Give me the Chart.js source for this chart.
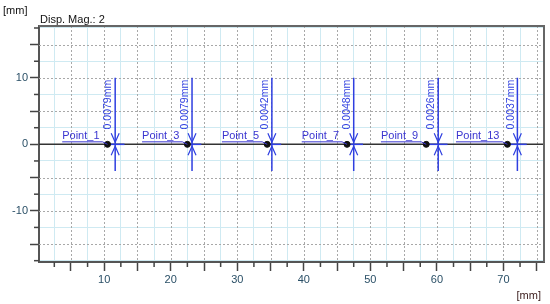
<!DOCTYPE html>
<html>
<head>
<meta charset="utf-8">
<script src="https://cdn.jsdelivr.net/npm/chart.js@4"></script>
<style>
  body { margin: 0; background: #fff; }
  #wrap { width: 550px; height: 304px; position: relative; }
</style>
</head>
<body>
<div id="wrap"><canvas id="dispChart"></canvas></div>
<script>
// Measurement points along the beam
const pointNames = ['Point_1', 'Point_3', 'Point_5', 'Point_7', 'Point_9', 'Point_13'];
const pointX = [10.5, 22.5, 34.5, 46.5, 58.4, 70.6];
const pointY = [0, 0, 0, 0, 0, 0];
// Displacement markers (blue)
const markerX = [11.65, 23.2, 35.2, 47.5, 60.2, 72.1];
const markerTop = 10;
const markerBottom = -4;
const dispLabels = ['0.0079mm', '0.0079mm', '0.0042mm', '0.0048mm', '0.0026mm', '0.0037mm'];
// Axis ranges / ticks
const xRange = [0.2, 76.1];
const yRange = [-17.7, 17.8];
const tickStep = 2.5;
const labelStep = 10;

const FONT = '"Liberation Sans", Arial, sans-serif';
const BLUE = '#2f3fe0';

const isMajor = v => Math.abs(v / 5 - Math.round(v / 5)) < 1e-6;

// Datasets: dots first (drawn on top), then blue markers, baseline last
const datasets = [];
datasets.push({
    type: 'scatter',
    data: pointX.map((x, i) => ({ x: x, y: pointY[i] })),
    pointRadius: 3,
    pointBackgroundColor: '#111',
    pointBorderColor: '#111',
    order: 0
});
markerX.forEach((mx, i) => {
    datasets.push({
        type: 'line',
        data: [{ x: mx, y: markerTop }, { x: mx, y: markerBottom }],
        borderColor: BLUE,
        borderWidth: 1.5,
        pointRadius: 0,
        order: 1
    });
    datasets.push({
        type: 'line',
        data: [{ x: pointX[i], y: pointY[i] }, { x: mx + 1.4, y: pointY[i] }],
        borderColor: BLUE,
        borderWidth: 1.5,
        pointRadius: 0,
        order: 1
    });
});
datasets.push({
    type: 'line',
    data: [{ x: xRange[0], y: 0 }, { x: xRange[1], y: 0 }],
    borderColor: '#333',
    borderWidth: 1.5,
    pointRadius: 0,
    order: 2
});

const overlay = {
    id: 'overlay',
    beforeDatasetsDraw(chart) {
        const { ctx, chartArea: a, scales: { x, y } } = chart;
        ctx.save();
        ctx.strokeStyle = '#a8a8a8';
        ctx.lineWidth = 1;
        ctx.setLineDash([2, 2]);
        x.ticks.forEach(t => {
            if (!isMajor(t.value)) return;
            const px = Math.round(x.getPixelForValue(t.value)) + 0.5;
            ctx.beginPath(); ctx.moveTo(px, a.top); ctx.lineTo(px, a.bottom); ctx.stroke();
        });
        y.ticks.forEach(t => {
            if (!isMajor(t.value)) return;
            const py = Math.round(y.getPixelForValue(t.value)) + 0.5;
            ctx.beginPath(); ctx.moveTo(a.left, py); ctx.lineTo(a.right, py); ctx.stroke();
        });
        ctx.setLineDash([]);
        // minor tick marks (short)
        ctx.strokeStyle = '#444';
        ctx.lineWidth = 1.5;
        x.ticks.forEach(t => {
            if (isMajor(t.value)) return;
            const px = x.getPixelForValue(t.value);
            ctx.beginPath(); ctx.moveTo(px, a.bottom); ctx.lineTo(px, a.bottom + 5); ctx.stroke();
        });
        y.ticks.forEach(t => {
            if (isMajor(t.value)) return;
            const py = y.getPixelForValue(t.value);
            ctx.beginPath(); ctx.moveTo(a.left, py); ctx.lineTo(a.left - 5, py); ctx.stroke();
        });
        ctx.restore();
    },
    afterDraw(chart) {
        const { ctx, chartArea: a, scales: { x, y } } = chart;
        ctx.save();
        // top and right frame
        ctx.strokeStyle = '#666';
        ctx.lineWidth = 2;
        ctx.beginPath();
        ctx.moveTo(a.left, a.top); ctx.lineTo(a.right, a.top); ctx.lineTo(a.right, a.bottom);
        ctx.stroke();

        // arrows, point names, displacement values
        pointX.forEach((px0, i) => {
            const dx = x.getPixelForValue(px0);
            const dy = y.getPixelForValue(pointY[i]);
            const mx = x.getPixelForValue(markerX[i]);

            ctx.strokeStyle = BLUE;
            ctx.lineWidth = 1.2;
            ctx.beginPath();
            ctx.moveTo(mx - 4, dy - 11); ctx.lineTo(mx, dy - 2); ctx.lineTo(mx + 4, dy - 11);
            ctx.moveTo(mx - 4, dy + 11); ctx.lineTo(mx, dy + 2); ctx.lineTo(mx + 4, dy + 11);
            ctx.stroke();

            ctx.font = '11px ' + FONT;
            ctx.fillStyle = '#3a35d0';
            ctx.textAlign = 'right';
            ctx.textBaseline = 'alphabetic';
            ctx.fillText(pointNames[i], dx - 8, dy - 5);
            const w = ctx.measureText(pointNames[i]).width;
            ctx.strokeStyle = '#3a35d0';
            ctx.lineWidth = 1;
            ctx.beginPath();
            ctx.moveTo(dx - 8 - w, dy - 2.5); ctx.lineTo(dx - 5, dy - 2.5); ctx.lineTo(dx, dy);
            ctx.stroke();

            ctx.save();
            ctx.translate(mx - 1.5, y.getPixelForValue(markerTop) + 2);
            ctx.rotate(-Math.PI / 2);
            ctx.font = '10.5px ' + FONT;
            ctx.fillStyle = BLUE;
            ctx.textAlign = 'right';
            ctx.textBaseline = 'bottom';
            ctx.fillText(dispLabels[i], 0, 0);
            ctx.restore();
        });

        ctx.fillStyle = '#111';
        ctx.font = '11px ' + FONT;
        ctx.textAlign = 'left';
        ctx.textBaseline = 'alphabetic';
        ctx.fillText('Disp. Mag.: 2', a.left + 1, a.top - 3);
        ctx.fillText('[mm]', 3, 14);
        ctx.fillStyle = '#3a1c1c';
        ctx.textAlign = 'right';
        ctx.fillText('[mm]', a.right - 3, 299);
        ctx.restore();
    }
};

const tickFont = { family: FONT, size: 11 };

new Chart(document.getElementById('dispChart'), {
    type: 'scatter',
    data: { datasets: datasets },
    options: {
        responsive: true,
        maintainAspectRatio: false,
        animation: false,
        layout: { padding: { top: 26, right: 6, left: 0, bottom: 0 } },
        plugins: { legend: { display: false }, tooltip: { enabled: false } },
        scales: {
            x: {
                type: 'linear',
                min: xRange[0],
                max: xRange[1],
                afterFit: s => { s.height = 42; },
                border: { color: '#555', width: 2 },
                grid: {
                    color: c => isMajor(c.tick.value) ? 'rgba(0,0,0,0)' : '#cfeaf2',
                    tickColor: c => isMajor(c.tick.value) ? '#444' : 'rgba(0,0,0,0)',
                    tickLength: 9,
                    tickWidth: 1.5
                },
                ticks: {
                    stepSize: tickStep,
                    includeBounds: false,
                    autoSkip: false,
                    maxRotation: 0,
                    padding: 2,
                    color: '#2a4f66',
                    font: tickFont,
                    callback: v => (Math.abs(v % labelStep) < 1e-6 ? String(v) : '')
                }
            },
            y: {
                type: 'linear',
                min: yRange[0],
                max: yRange[1],
                afterFit: s => { s.width = 39; },
                border: { color: '#555', width: 2 },
                grid: {
                    color: c => isMajor(c.tick.value) ? 'rgba(0,0,0,0)' : '#cfeaf2',
                    tickColor: c => isMajor(c.tick.value) ? '#444' : 'rgba(0,0,0,0)',
                    tickLength: 9,
                    tickWidth: 1.5
                },
                ticks: {
                    stepSize: tickStep,
                    includeBounds: false,
                    autoSkip: false,
                    padding: 2,
                    color: '#2a4f66',
                    font: tickFont,
                    callback: v => (Math.abs(v % labelStep) < 1e-6 ? String(v) : '')
                }
            }
        }
    },
    plugins: [overlay]
});
</script>
</body>
</html>
